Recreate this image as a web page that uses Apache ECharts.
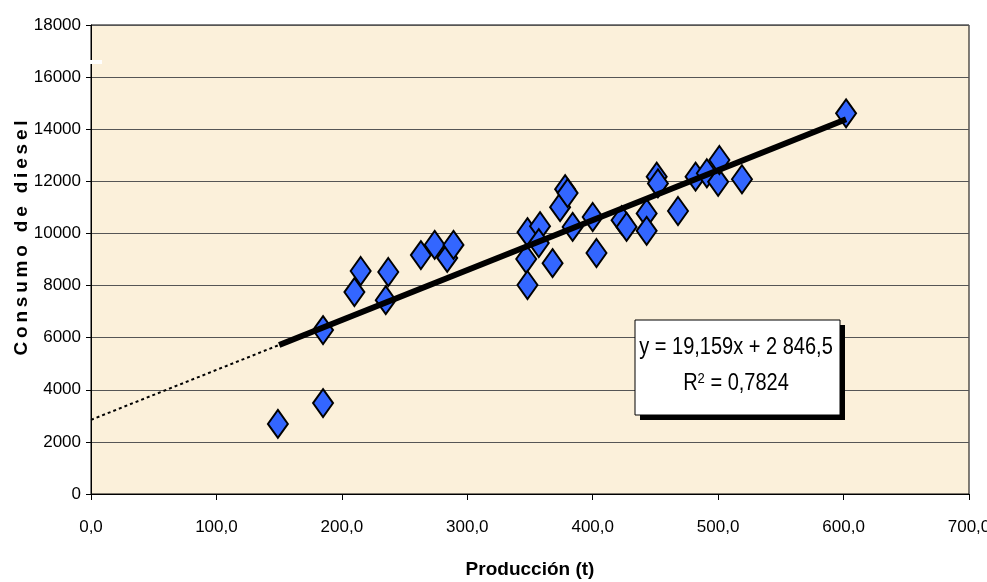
<!DOCTYPE html>
<html>
<head>
<meta charset="utf-8">
<script src="https://cdn.jsdelivr.net/npm/echarts@6/dist/echarts.min.js"></script>
<style>
  html, body { margin: 0; padding: 0; background: #fff; }
  #chart { width: 987px; height: 582px; }
</style>
</head>
<body>
<div id="chart"></div>
<script>
// producción (t) vs consumo de diesel
var produccion = [149, 185, 185, 210, 215, 235, 237, 263, 274, 284, 289,
  348, 358, 357, 347, 368, 348, 374, 378, 380, 384, 400, 403, 423, 427,
  443, 443, 451, 452, 468, 482, 491, 500, 501, 519, 602];
var consumo = [2690, 3490, 6290, 7750, 8560, 7440, 8520, 9170, 9560, 9060, 9560,
  10050, 10280, 9630, 9020, 8860, 8020, 11010, 11700, 11550, 10250, 10630, 9250, 10510, 10250,
  10770, 10100, 12180, 11920, 10860, 12180, 12310, 11980, 12820, 12080, 14610];

var xTicks = [0, 100, 200, 300, 400, 500, 600, 700];
var yTicks = [0, 2000, 4000, 6000, 8000, 10000, 12000, 14000, 16000, 18000];

var trendSlope = 19.159;
var trendIntercept = 2846.5;
var trendSolidRange = [150, 602];
var trendDottedRange = [0, 250];

var sans = "'Liberation Sans', Arial, sans-serif";

function trendPoints(range) {
  return range.map(function (x) {
    return [x, trendSlope * x + trendIntercept];
  });
}

var scatterData = [];
for (var i = 0; i < produccion.length; i++) {
  scatterData.push([produccion[i], consumo[i]]);
}

var chart = echarts.init(document.getElementById('chart'));

var option = {
  backgroundColor: '#ffffff',
  animation: false,
  grid: {
    left: 91,
    right: 18,
    top: 25,
    bottom: 88,
    containLabel: false,
    outerBoundsMode: 'none',
    show: true,
    backgroundColor: '#FBF0DA',
    borderColor: '#000',
    borderWidth: 1
  },
  xAxis: {
    type: 'value',
    min: xTicks[0],
    max: xTicks[xTicks.length - 1],
    interval: 100,
    name: 'Producción (t)',
    nameLocation: 'middle',
    nameGap: 66,
    nameTextStyle: { fontFamily: sans, fontWeight: 'bold', fontSize: 19, color: '#000' },
    axisLine: { lineStyle: { color: '#000', width: 1 } },
    axisTick: { show: true, length: 6, lineStyle: { color: '#000' } },
    axisLabel: {
      margin: 25,
      fontFamily: sans,
      fontSize: 17,
      color: '#000',
      formatter: function (v) { return v.toFixed(1).replace('.', ','); }
    },
    splitLine: { show: false }
  },
  yAxis: {
    type: 'value',
    min: yTicks[0],
    max: yTicks[yTicks.length - 1],
    interval: 2000,
    axisLine: { show: true, lineStyle: { color: '#000', width: 1 } },
    axisTick: { show: true, length: 5, lineStyle: { color: '#000' } },
    axisLabel: {
      margin: 10,
      fontFamily: sans,
      fontSize: 17,
      color: '#000',
      formatter: function (v) { return String(v); }
    },
    splitLine: { show: true, lineStyle: { color: '#555', width: 1 } }
  },
  series: [
    {
      type: 'scatter',
      data: scatterData,
      symbol: 'diamond',
      symbolSize: [20, 28],
      itemStyle: { color: '#3366FF', opacity: 1, borderColor: '#000', borderWidth: 2 },
      z: 2
    },
    {
      type: 'line',
      data: trendPoints(trendDottedRange),
      showSymbol: false,
      symbol: 'none',
      lineStyle: { color: '#000', width: 2, type: [3, 3] },
      z: 3
    },
    {
      type: 'line',
      data: trendPoints(trendSolidRange),
      showSymbol: false,
      symbol: 'none',
      lineStyle: { color: '#000', width: 6 },
      z: 4
    }
  ],
  graphic: [
    {
      // y axis title, sits a bit above the middle of the axis
      type: 'text',
      x: 22,
      y: 238,
      rotation: Math.PI / 2,
      style: {
        text: 'C\u2009o\u2009n\u2009s\u2009u\u2009m\u2009o\u2009 \u2009d\u2009e\u2009 \u2009d\u2009i\u2009e\u2009s\u2009e\u2009l',
        font: 'bold 19px ' + sans,
        fill: '#000',
        align: 'center',
        verticalAlign: 'middle'
      }
    },
    {
      type: 'rect',
      shape: { x: 87, y: 60, width: 15, height: 4 },
      style: { fill: '#fff' },
      z: 10
    },
    {
      type: 'rect',
      shape: { x: 640, y: 325, width: 205, height: 95 },
      style: { fill: '#000' },
      z: 10
    },
    {
      type: 'rect',
      shape: { x: 635, y: 320, width: 205, height: 95 },
      style: { fill: '#fff', stroke: '#000', lineWidth: 1 },
      z: 11
    },
    {
      type: 'text',
      x: 736,
      y: 348,
      scaleX: 0.87,
      style: {
        text: 'y = 19,159x + 2 846,5',
        font: '23px ' + sans,
        fill: '#000',
        align: 'center',
        verticalAlign: 'middle'
      },
      z: 12
    },
    {
      type: 'text',
      x: 736,
      y: 384,
      scaleX: 0.87,
      style: {
        text: '{a|R}{s|2}{a| = 0,7824}',
        fill: '#000',
        align: 'center',
        verticalAlign: 'middle',
        rich: {
          a: { font: '23px ' + sans, fill: '#000' },
          s: { font: '15px ' + sans, fill: '#000', verticalAlign: 'top', padding: [0, 0, 10, 0] }
        }
      },
      z: 12
    }
  ]
};

chart.setOption(option);
</script>
</body>
</html>
